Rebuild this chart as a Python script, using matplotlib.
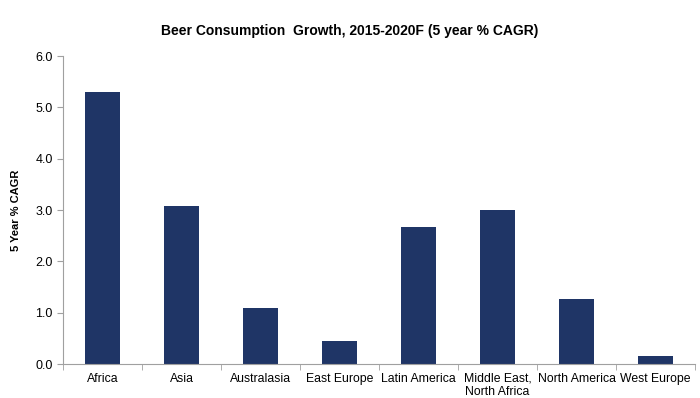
import numpy as np
from matplotlib import pyplot as plt

plt.rcParams['font.family'] = ['Liberation Sans', 'DejaVu Sans']

regions = ['Africa', 'Asia', 'Australasia', 'East Europe', 'Latin America',
           'Middle East,\nNorth Africa', 'North America', 'West Europe']
cagr = [5.30, 3.08, 1.09, 0.45, 2.67, 3.00, 1.27, 0.16]

fig = plt.figure(figsize=(7, 3.98), dpi=100)
ax = fig.add_axes([0.09, 0.085, 0.903, 0.774])

x = np.arange(len(regions))
ax.bar(x, cagr, width=0.45, color='#1f3566')

ax.set_xlim(-0.5, len(regions) - 0.5)
ax.set_ylim(0, 6)
ax.set_yticks(np.arange(0, 6.1, 1.0))
ax.set_yticklabels(['%.1f' % v for v in np.arange(0, 6.1, 1.0)], fontsize=9)
ax.set_xticks(x)
ax.set_xticklabels(regions, fontsize=8.8, va='top')
ax.set_xticks(np.arange(-0.5, len(regions), 1.0), minor=True)
ax.tick_params(axis='x', which='major', length=0, pad=6)
ax.tick_params(axis='x', which='minor', length=4, color='#a0a0a0', direction='out')
ax.tick_params(axis='y', length=4, color='#a0a0a0', direction='out')

for s in ['top', 'right']:
    ax.spines[s].set_visible(False)
for s in ['left', 'bottom']:
    ax.spines[s].set_color('#a0a0a0')

ax.set_ylabel('5 Year % CAGR', fontsize=8, fontweight='bold', labelpad=10)
fig.text(0.5, 0.922, 'Beer Consumption  Growth, 2015-2020F (5 year % CAGR)',
         ha='center', va='center', fontsize=10, fontweight='bold')

fig.savefig('out.png', dpi=100)
